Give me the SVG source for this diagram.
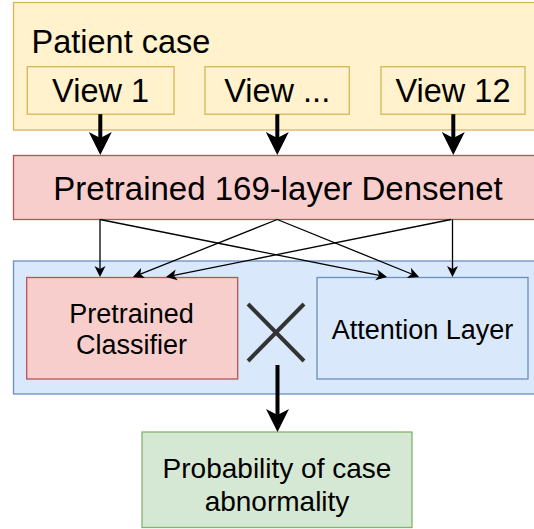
<svg xmlns="http://www.w3.org/2000/svg" width="534" height="529" viewBox="0 0 534 529">
  <style>
    text { font-family: "Liberation Sans", Arial, Helvetica, sans-serif; fill: #000000; }
    .yellow { fill: #fff2cc; stroke: #d6b656; stroke-width: 1.3; }
    .red { fill: #f8cecc; stroke: #b85450; stroke-width: 1.3; }
    .blue { fill: #dae8fc; stroke: #6c8ebf; stroke-width: 1.3; }
    .green { fill: #d5e8d4; stroke: #82b366; stroke-width: 1.3; }
    .big { font-size: 32.5px; }
    .mid { font-size: 27px; }
    .thick { stroke: #000000; stroke-width: 4; fill: none; marker-end: url(#headBig); }
    .thin { stroke: #000000; stroke-width: 1.3; fill: none; marker-end: url(#headSmall); }
    .cross { stroke: #333333; stroke-width: 4; fill: none; }
  </style>
  <defs>
    <marker id="headBig" viewBox="0 0 23 24" refX="6" refY="12" markerWidth="23" markerHeight="24" markerUnits="userSpaceOnUse" orient="auto">
      <path d="M0,0.5 L23,12 L0,23.5 L6,12 Z" fill="#000000"/>
    </marker>
    <marker id="headSmall" viewBox="0 0 12 12" refX="3" refY="6" markerWidth="12" markerHeight="12" markerUnits="userSpaceOnUse" orient="auto">
      <path d="M0,0.5 L11,6 L0,11.5 L3,6 Z" fill="#000000"/>
    </marker>
  </defs>

  <g id="patient-case">
    <rect class="yellow" x="13.5" y="2.5" width="530" height="127.5"/>
    <text class="big" x="31.5" y="53.3">Patient case</text>
  </g>
  <g id="view-1">
    <rect class="yellow" x="27.3" y="66.7" width="146.7" height="47.5"/>
    <text class="big" x="100.6" y="101.7" text-anchor="middle">View 1</text>
  </g>
  <g id="view-mid">
    <rect class="yellow" x="205" y="66.7" width="144.3" height="47.5"/>
    <text class="big" x="277.2" y="101.7" text-anchor="middle">View ...</text>
  </g>
  <g id="view-12">
    <rect class="yellow" x="381" y="66.7" width="144" height="47.5"/>
    <text class="big" x="453" y="101.7" text-anchor="middle">View 12</text>
  </g>

  <g id="densenet">
    <rect class="red" x="13.5" y="155.5" width="530" height="64"/>
    <text x="278" y="200" text-anchor="middle" style="font-size:33px">Pretrained 169-layer Densenet</text>
  </g>

  <g id="model-block">
    <rect class="blue" x="13.5" y="261" width="530" height="133"/>
  </g>
  <g id="classifier">
    <rect class="red" x="26.7" y="277.5" width="211" height="101.5"/>
    <text class="mid" x="131.5" y="323.3" text-anchor="middle">Pretrained</text>
    <text class="mid" x="131.5" y="354" text-anchor="middle">Classifier</text>
  </g>
  <g id="attention">
    <rect class="blue" x="317" y="277.5" width="211" height="101.5"/>
    <text class="mid" x="422.5" y="339" text-anchor="middle">Attention Layer</text>
  </g>
  <g id="multiply">
    <line class="cross" x1="248" y1="304" x2="304" y2="361"/>
    <line class="cross" x1="304" y1="304" x2="248" y2="361"/>
  </g>

  <g id="probability">
    <rect class="green" x="142" y="432" width="270" height="95.5"/>
    <text x="277" y="478.3" text-anchor="middle" style="font-size:28px">Probability of case</text>
    <text x="277" y="510.5" text-anchor="middle" style="font-size:28px">abnormality</text>
  </g>

  <g id="connectors">
    <line class="thick" x1="100.3" y1="114.2" x2="100.3" y2="138"/>
    <line class="thick" x1="277.3" y1="114.2" x2="277.3" y2="138"/>
    <line class="thick" x1="453.3" y1="114.2" x2="453.3" y2="138"/>

    <line class="thin" x1="100" y1="219.5" x2="100" y2="269"/>
    <line class="thin" x1="100" y1="219.5" x2="379.2" y2="275.4"/>
    <line class="thin" x1="277.3" y1="219.5" x2="140.4" y2="274.1"/>
    <line class="thin" x1="277.3" y1="219.5" x2="411.6" y2="274"/>
    <line class="thin" x1="451" y1="219.5" x2="173.8" y2="275.4"/>
    <line class="thin" x1="452.5" y1="219.5" x2="452.5" y2="269"/>

    <line class="thick" x1="277.5" y1="365" x2="277.5" y2="415"/>
  </g>
</svg>
